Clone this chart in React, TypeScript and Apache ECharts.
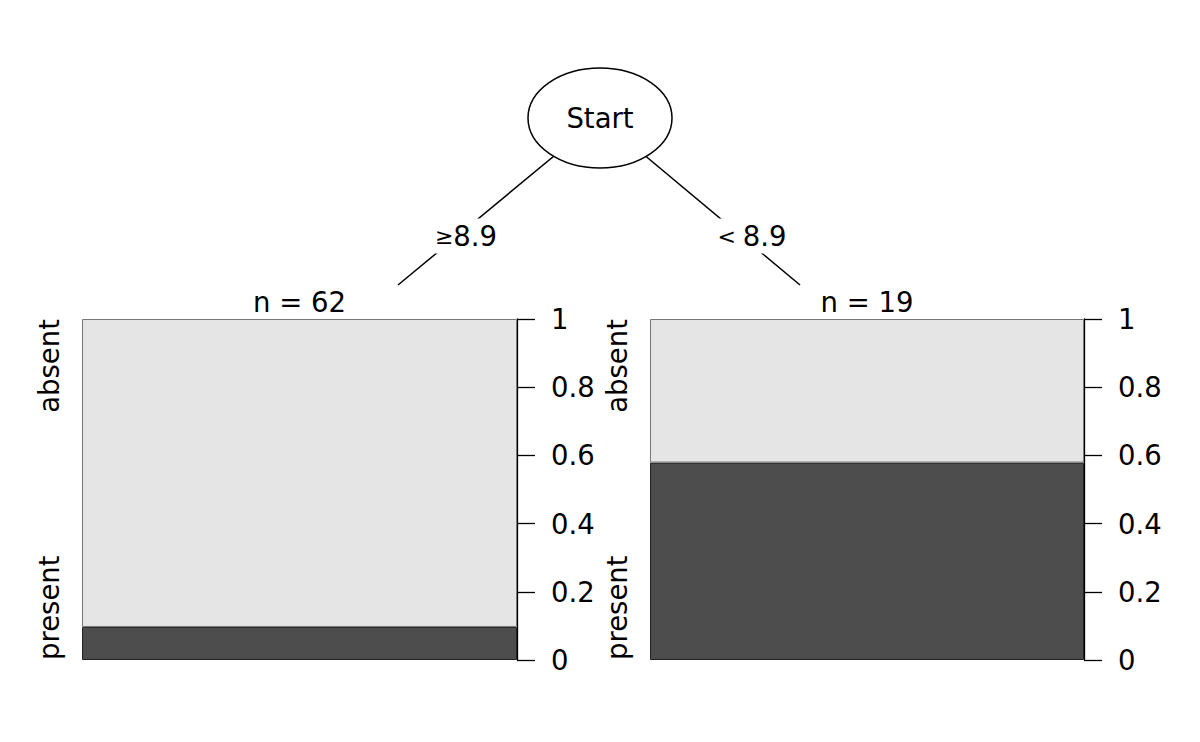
import React, { useEffect, useRef } from "react";
import * as echarts from "echarts";

const nodeLabels = ["n = 62", "n = 19"];
const splitSymbols = ["≥", "< "];
const splitValues = ["8.9", "8.9"];
const rootLabel = "Start";
const classNames = ["present", "absent"];
const presentShare = [0.097, 0.579];
const absentShare = [0.903, 0.421];
const yTicks = ["0", "0.2", "0.4", "0.6", "0.8", "1"];

const FONT = "DejaVu Sans";
const FS = 27.5;

export default function App() {
  const ref = useRef<HTMLDivElement>(null);
  useEffect(() => {
    document.body.style.margin = "0";
    const chart = echarts.init(ref.current!, null, { renderer: "svg" });
    const panels = [
      { left: 82, width: 435 },
      { left: 650, width: 434 },
    ];
    const top = 319;
    const height = 341;
    const grids = panels.map((p) => ({ left: p.left, width: p.width, top, height }));
    const xAxes = panels.map((_, i) => ({
      type: "category",
      gridIndex: i,
      data: [nodeLabels[i]],
      show: false,
    }));
    const yAxes = panels.map((_, i) => ({
      type: "value",
      gridIndex: i,
      position: "right",
      min: 0,
      max: 1,
      interval: 0.2,
      splitLine: { show: false },
      axisLine: { show: true, lineStyle: { color: "#000", width: 1.3 } },
      axisTick: { show: true, length: 18, lineStyle: { color: "#000", width: 1.3 } },
      axisLabel: {
        margin: 34,
        color: "#000",
        fontFamily: FONT,
        fontSize: FS,
        align: "left",
        formatter: (v: number) => yTicks[Math.round(v * 5)],
      },
    }));
    const series: any[] = [];
    panels.forEach((_, i) => {
      series.push({
        type: "bar",
        name: classNames[0],
        xAxisIndex: i,
        yAxisIndex: i,
        stack: "s" + i,
        barWidth: "100%",
        data: [presentShare[i]],
        itemStyle: { color: "#4d4d4d", borderColor: "#222", borderWidth: 1 },
      });
      series.push({
        type: "bar",
        name: classNames[1],
        xAxisIndex: i,
        yAxisIndex: i,
        stack: "s" + i,
        barWidth: "100%",
        data: [absentShare[i]],
        itemStyle: { color: "#e5e5e5", borderColor: "#777", borderWidth: 1 },
      });
    });

    const root = { x: 600, y: 118 };
    const leafTops = [
      { x: 398, y: 285 },
      { x: 800, y: 285 },
    ];
    const labelPos = [
      { x: 466, y: 236 },
      { x: 752, y: 236 },
    ];
    const graphic: any[] = [];
    leafTops.forEach((lt) => {
      graphic.push({
        type: "line",
        shape: { x1: root.x, y1: root.y, x2: lt.x, y2: lt.y },
        style: { stroke: "#000", lineWidth: 1.5 },
        z: 1,
      });
    });
    labelPos.forEach((lp, i) => {
      graphic.push({
        type: "text",
        x: lp.x,
        y: lp.y,
        z: 2,
        style: {
          text: `{s|${splitSymbols[i]}}{v|${splitValues[i]}}`,
          rich: {
            s: { fontFamily: FONT, fontSize: 22, fill: "#000", lineHeight: 35 },
            v: { fontFamily: FONT, fontSize: FS, fill: "#000", lineHeight: 35 },
          },
          align: "center",
          verticalAlign: "middle",
          backgroundColor: "#fff",
          padding: [0, 2],
        },
      });
    });
    graphic.push({
      type: "ellipse",
      shape: { cx: root.x, cy: root.y, rx: 72, ry: 50 },
      style: { fill: "#fff", stroke: "#000", lineWidth: 1.5 },
      z: 3,
    });
    graphic.push({
      type: "text",
      x: root.x,
      y: root.y,
      z: 4,
      style: {
        text: rootLabel,
        font: `${FS}px "${FONT}"`,
        fill: "#000",
        align: "center",
        verticalAlign: "middle",
      },
    });
    panels.forEach((p, i) => {
      graphic.push({
        type: "text",
        x: p.left + p.width / 2,
        y: 302,
        style: {
          text: nodeLabels[i],
          font: `${FS}px "${FONT}"`,
          fill: "#000",
          align: "center",
          verticalAlign: "middle",
        },
      });
      const lx = p.left - 33;
      graphic.push({
        type: "text",
        x: lx,
        y: top,
        rotation: Math.PI / 2,
        style: {
          text: classNames[1],
          font: `${FS}px "${FONT}"`,
          fill: "#000",
          align: "right",
          verticalAlign: "middle",
        },
      });
      graphic.push({
        type: "text",
        x: lx,
        y: top + height,
        rotation: Math.PI / 2,
        style: {
          text: classNames[0],
          font: `${FS}px "${FONT}"`,
          fill: "#000",
          align: "left",
          verticalAlign: "middle",
        },
      });
    });

    chart.setOption({
      animation: false,
      backgroundColor: "#fff",
      grid: grids,
      xAxis: xAxes,
      yAxis: yAxes,
      series,
      graphic,
    });
    return () => chart.dispose();
  }, []);
  return (
    <div
      ref={ref}
      style={{ position: "absolute", left: 0, top: 0, width: 1200, height: 742 }}
    />
  );
}
